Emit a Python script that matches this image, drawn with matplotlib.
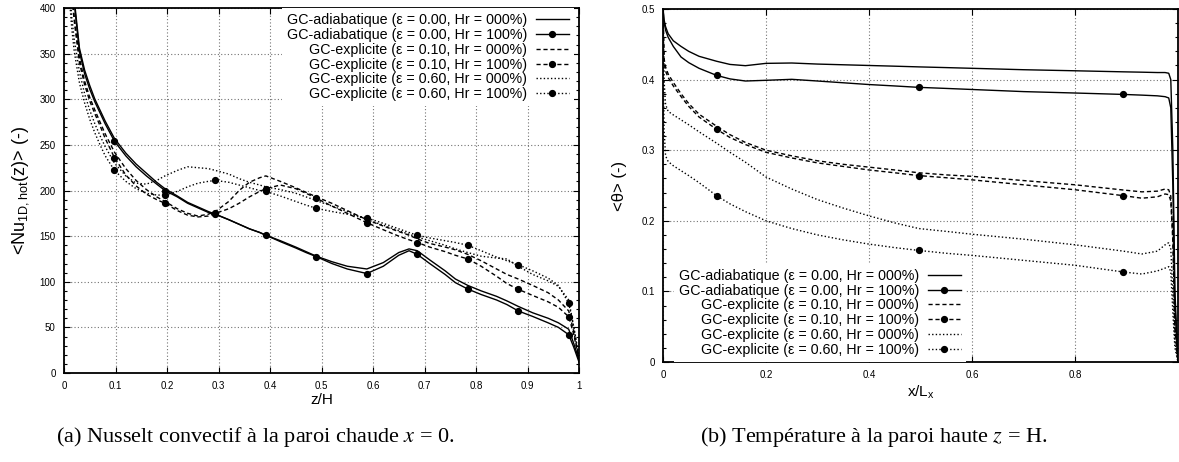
import numpy as np
import matplotlib
matplotlib.use("Agg")
import matplotlib.pyplot as plt
from matplotlib.ticker import MultipleLocator, FormatStrFormatter

plt.rcParams['font.family'] = ['Liberation Sans', 'DejaVu Sans']
plt.rcParams['mathtext.fontset'] = 'custom'
plt.rcParams['mathtext.rm'] = 'Liberation Sans'

# ---------------- data : left panel (Nusselt) ----------------
z_nu = [0.005, 0.01, 0.015, 0.02, 0.03, 0.04, 0.05, 0.06, 0.07, 0.08,
        0.098, 0.12, 0.14, 0.16, 0.18, 0.196, 0.22, 0.24, 0.26, 0.28,
        0.294, 0.32, 0.34, 0.36, 0.38, 0.392, 0.42, 0.45, 0.47, 0.49,
        0.52, 0.55, 0.588, 0.62, 0.65, 0.67, 0.686, 0.71, 0.74, 0.76,
        0.784, 0.81, 0.84, 0.86, 0.882, 0.91, 0.94, 0.96, 0.98, 0.99, 1.0]
nu_adia_0 = [612, 500, 444, 409, 356, 332, 315, 300, 288, 276,
             257, 241, 229, 219, 209, 202, 194, 187, 182, 177,
             174, 168, 163, 158, 154, 151, 145, 138, 133, 128,
             122, 117, 114, 121, 132, 136, 134, 124, 112, 103,
             96, 90, 84, 79, 73, 66, 60, 55, 48, 32, 14]
nu_adia_100 = [607, 496, 440, 405, 352, 328, 311, 297, 285, 273,
               254, 238, 226, 216, 207, 200, 193, 186, 181, 176,
               174, 168, 163, 158, 154, 151, 144, 137, 132, 127.5,
               120, 114, 109, 117, 129, 134, 130, 120, 108, 99,
               92, 86, 80, 75, 68, 62, 55, 50, 42, 28, 12]
nu_e010_0 = [560, 470, 420, 390, 345, 320, 302, 288, 275, 262,
             242, 224, 211, 201, 193, 188, 180, 175, 172, 174,
             177, 188, 200, 209, 214, 216, 210, 203, 198, 193,
             186, 178, 168, 161, 155, 151, 147, 142, 138, 135,
             130, 123, 114, 108, 103, 96, 88, 80, 68, 45, 15]
nu_e010_100 = [550, 462, 414, 385, 340, 316, 298, 284, 271, 257,
               236, 217, 205, 196, 190, 186, 178, 173, 171, 172,
               175, 180, 186, 193, 199, 202, 206, 202, 197, 191.5,
               183, 175, 164.7, 157, 150, 146, 143, 138, 133, 129,
               125, 117, 106, 98, 91.7, 85, 78, 72, 61.7, 42, 14]
nu_e060_0 = [500, 430, 390, 365, 330, 306, 288, 273, 260, 248,
             230, 216, 208, 207, 211, 216, 222, 226, 225, 224,
             222, 218, 213, 209, 206, 204, 201, 197, 193, 189,
             183, 177, 168, 162, 156, 152, 149, 145, 140, 136,
             132, 128, 126, 125, 117, 108, 101, 95, 80, 50, 16]
nu_e060_100 = [480, 415, 378, 352, 318, 296, 278, 263, 250, 238,
               222, 210, 202, 197, 195, 195, 199, 204, 208, 210,
               211, 209, 206, 203, 200, 199, 194, 188, 184, 180.5,
               177, 174, 170, 164, 158, 154, 151, 148, 145, 143,
               140, 134, 127, 123, 118.7, 112, 104, 96, 76.4, 50, 18]
z_marks = [0.098, 0.196, 0.294, 0.392, 0.49, 0.588, 0.686, 0.784, 0.882, 0.98]

# ---------------- data : right panel (temperature) ----------------
x_th = [0.0, 0.002, 0.005, 0.01, 0.02, 0.035, 0.05, 0.07, 0.104, 0.13,
        0.16, 0.2, 0.25, 0.3, 0.35, 0.4, 0.45, 0.497, 0.55, 0.6,
        0.7, 0.8, 0.894, 0.93, 0.96, 0.975, 0.982, 0.986, 0.99, 0.994, 1.0]
th_adia_0 = [.500, .485, .475, .465, .455, .447, .440, .433, .426, .4215,
             .4197, .423, .4235, .422, .421, .420, .419, .418, .417, .416,
             .414, .4125, .411, .4105, .410, .4100, .409, .400, .300, .100, 0.0]
th_adia_100 = [.500, .482, .470, .460, .447, .432, .424, .416, .406, .401,
               .398, .399, .4004, .398, .3955, .393, .391, .389, .3875, .386,
               .383, .381, .379, .378, .377, .3758, .374, .360, .250, .080, 0.0]
th_e010_0 = [.500, .430, .418, .408, .396, .380, .366, .351, .334, .322,
             .311, .300, .292, .285, .280, .276, .272, .268, .265, .263,
             .257, .251, .2436, .241, .242, .245, .244, .235, .180, .050, 0.0]
th_e010_100 = [.500, .425, .412, .403, .391, .376, .362, .347, .3296, .318,
               .308, .297, .289, .282, .277, .272, .268, .264, .261, .258,
               .251, .244, .2356, .232, .234, .238, .237, .228, .170, .050, 0.0]
th_e060_0 = [.500, .400, .365, .355, .350, .343, .336, .326, .310, .297,
             .283, .262, .245, .230, .218, .207, .197, .189, .185, .181,
             .174, .166, .157, .153, .157, .166, .169, .160, .100, .030, 0.0]
th_e060_100 = [.500, .330, .292, .284, .278, .271, .264, .254, .2356, .224,
               .213, .200, .189, .180, .173, .167, .162, .158, .154, .151,
               .144, .137, .1275, .1246, .129, .133, .135, .128, .070, .020, 0.0]
x_marks = [0.104, 0.497, 0.894]

labels = ["GC-adiabatique (\u03b5 = 0.00, Hr = 000%)",
          "GC-adiabatique (\u03b5 = 0.00, Hr = 100%)",
          "GC-explicite (\u03b5 = 0.10, Hr = 000%)",
          "GC-explicite (\u03b5 = 0.10, Hr = 100%)",
          "GC-explicite (\u03b5 = 0.60, Hr = 000%)",
          "GC-explicite (\u03b5 = 0.60, Hr = 100%)"]

styles = [dict(ls='-', marker=None),
          dict(ls='-', marker='o'),
          dict(ls=(0, (3, 2)), marker=None),
          dict(ls=(0, (3, 2)), marker='o'),
          dict(ls=(0, (1, 1.6)), marker=None),
          dict(ls=(0, (1, 1.6)), marker='o')]

W, H = 1179, 462
fig = plt.figure(figsize=(W / 100, H / 100), dpi=100)
axL = fig.add_axes([64 / W, 1 - 373 / H, 515 / W, 365 / H])
axR = fig.add_axes([663 / W, 1 - 362 / H, 515 / W, 353 / H])


def mark_idx(xs, marks):
    xs = np.asarray(xs)
    return [int(np.argmin(np.abs(xs - m))) for m in marks]


def draw(ax, x, series, marks):
    idx = mark_idx(x, marks)
    for y, lab, st in zip(series, labels, styles):
        ax.plot(x, y, color='black', lw=1.0, ls=st['ls'],
                marker=st['marker'], ms=4.2, markevery=idx if st['marker'] else None,
                label=lab, clip_on=True)


draw(axL, z_nu, [nu_adia_0, nu_adia_100, nu_e010_0, nu_e010_100, nu_e060_0, nu_e060_100], z_marks)
draw(axR, x_th, [th_adia_0, th_adia_100, th_e010_0, th_e010_100, th_e060_0, th_e060_100], x_marks)

for ax in (axL, axR):
    ax.grid(True, which='major', color='0.45', ls=(0, (1, 2)), lw=0.8)
    ax.tick_params(which='both', direction='in', top=True, right=True,
                   labelsize=7, pad=6, width=0.8)
    ax.tick_params(which='major', length=4)
    ax.tick_params(which='minor', length=2.5)
    for s in ax.spines.values():
        s.set_linewidth(1.3)
    ax.xaxis.set_major_formatter(FormatStrFormatter('%g'))
    ax.yaxis.set_major_formatter(FormatStrFormatter('%g'))

axL.set_xlim(0, 1)
axL.set_ylim(0, 400)
axL.xaxis.set_major_locator(MultipleLocator(0.1))
axL.yaxis.set_major_locator(MultipleLocator(50))
axL.yaxis.set_minor_locator(MultipleLocator(10))
axL.set_xlabel('z/H', fontsize=11, labelpad=1)
axL.set_ylabel('<Nu$_{\\mathregular{1D,hot}}$(z)> (-)', fontsize=13, labelpad=6)

axR.set_xlim(0, 1)
axR.set_ylim(0, 0.5)
axR.set_xticks([0, 0.2, 0.4, 0.6, 0.8])
axR.yaxis.set_major_locator(MultipleLocator(0.1))
axR.yaxis.set_minor_locator(MultipleLocator(0.02))
axR.set_xlabel('x/L$_{\\mathregular{x}}$', fontsize=11, labelpad=2)
axR.set_ylabel('<\u03b8> (-)', fontsize=12, labelpad=10)

leg_kw = dict(fontsize=10.3, markerfirst=False, frameon=True, fancybox=False,
              framealpha=1, edgecolor='none', facecolor='white',
              handlelength=2.3, handletextpad=0.6, labelspacing=0.06,
              borderpad=0.35, borderaxespad=0)
legL = axL.legend(loc='upper right', bbox_to_anchor=(0.99, 1.0), **leg_kw)
legR = axR.legend(loc='lower right', bbox_to_anchor=(0.588, 0.0), **leg_kw)

fig.text(255 / W, 1 - 437 / H, "(a) Nusselt convectif \u00e0 la paroi chaude $x$ = 0.",
         ha='center', va='center', fontsize=16, family='Liberation Serif',
         math_fontfamily='stix')
fig.text(874 / W, 1 - 437 / H, "(b) Temp\u00e9rature \u00e0 la paroi haute $z$ = H.",
         ha='center', va='center', fontsize=16, family='Liberation Serif',
         math_fontfamily='stix')

fig.savefig('out.png', dpi=100)
